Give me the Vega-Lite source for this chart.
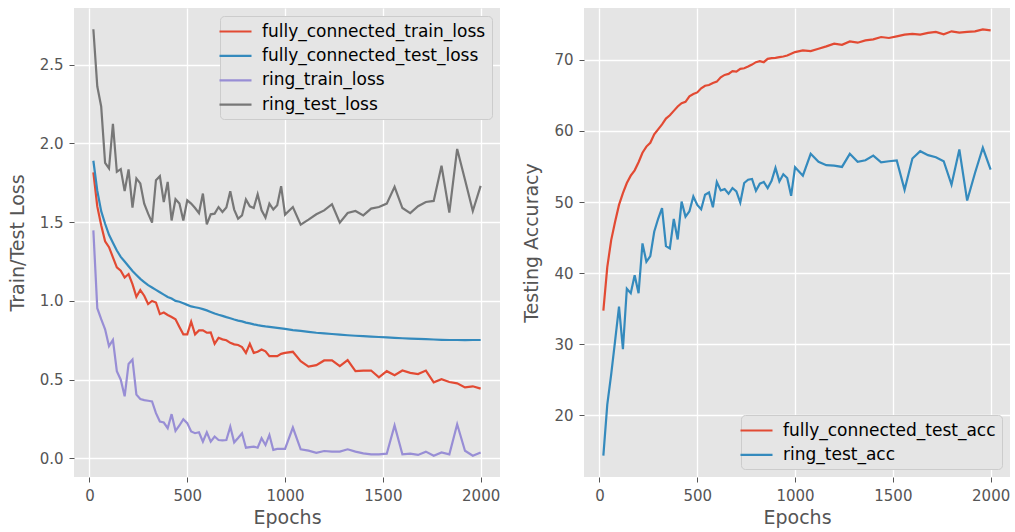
{
  "$schema": "https://vega.github.io/schema/vega-lite/v6.json",
  "background": "white",
  "padding": {"left": 8, "top": 8, "right": 2, "bottom": 2},
  "config": {
    "font": "DejaVu Sans",
    "view": {"fill": "#E5E5E5", "stroke": null},
    "axis": {"domain": false, "grid": true, "gridColor": "white", "gridWidth": 1.3, "tickColor": "#555555", "tickSize": 5, "tickWidth": 1, "labelColor": "#555555", "labelFontSize": 15, "titleColor": "#555555", "titleFontSize": 19, "titleFontWeight": "normal", "labelPadding": 6},
    "axisX": {"titlePadding": 5},
    "axisY": {"titlePadding": 12},
    "legend": {"fillColor": "#E5E5E5", "strokeColor": "#CCCCCC", "cornerRadius": 4, "padding": 6, "labelFontSize": 17, "labelColor": "#000000", "labelFont": "DejaVu Sans", "labelLimit": 0, "symbolType": "M-2,0L2,0", "symbolSize": 256, "symbolStrokeWidth": 2.2, "labelOffset": 17, "rowPadding": 6.4, "offset": 8},
    "concat": {"spacing": 22}
  },
  "datasets": {
    "loss": [
      {"epoch":20,"fully_connected_train_loss":1.816,"fully_connected_test_loss":1.89,"ring_train_loss":1.448,"ring_test_loss":2.725},
      {"epoch":40,"fully_connected_train_loss":1.60,"fully_connected_test_loss":1.70,"ring_train_loss":0.954,"ring_test_loss":2.363},
      {"epoch":60,"fully_connected_train_loss":1.48,"fully_connected_test_loss":1.57,"ring_train_loss":0.884,"ring_test_loss":2.235},
      {"epoch":80,"fully_connected_train_loss":1.379,"fully_connected_test_loss":1.49,"ring_train_loss":0.82,"ring_test_loss":1.877},
      {"epoch":100,"fully_connected_train_loss":1.341,"fully_connected_test_loss":1.42,"ring_train_loss":0.713,"ring_test_loss":1.841},
      {"epoch":120,"fully_connected_train_loss":1.277,"fully_connected_test_loss":1.37,"ring_train_loss":0.752,"ring_test_loss":2.125},
      {"epoch":140,"fully_connected_train_loss":1.213,"fully_connected_test_loss":1.32,"ring_train_loss":0.554,"ring_test_loss":1.82},
      {"epoch":160,"fully_connected_train_loss":1.192,"fully_connected_test_loss":1.28,"ring_train_loss":0.50,"ring_test_loss":1.837},
      {"epoch":180,"fully_connected_train_loss":1.149,"fully_connected_test_loss":1.25,"ring_train_loss":0.394,"ring_test_loss":1.697},
      {"epoch":200,"fully_connected_train_loss":1.171,"fully_connected_test_loss":1.22,"ring_train_loss":0.60,"ring_test_loss":1.835},
      {"epoch":220,"fully_connected_train_loss":1.107,"fully_connected_test_loss":1.19,"ring_train_loss":0.628,"ring_test_loss":1.593},
      {"epoch":240,"fully_connected_train_loss":1.026,"fully_connected_test_loss":1.165,"ring_train_loss":0.405,"ring_test_loss":1.778},
      {"epoch":260,"fully_connected_train_loss":1.069,"fully_connected_test_loss":1.14,"ring_train_loss":0.377,"ring_test_loss":1.746},
      {"epoch":280,"fully_connected_train_loss":1.033,"fully_connected_test_loss":1.12,"ring_train_loss":0.37,"ring_test_loss":1.618},
      {"epoch":300,"fully_connected_train_loss":0.98,"fully_connected_test_loss":1.10,"ring_train_loss":0.366,"ring_test_loss":1.554},
      {"epoch":320,"fully_connected_train_loss":1.0,"fully_connected_test_loss":1.085,"ring_train_loss":0.362,"ring_test_loss":1.497},
      {"epoch":340,"fully_connected_train_loss":0.99,"fully_connected_test_loss":1.07,"ring_train_loss":0.287,"ring_test_loss":1.767},
      {"epoch":360,"fully_connected_train_loss":0.916,"fully_connected_test_loss":1.055,"ring_train_loss":0.234,"ring_test_loss":1.792},
      {"epoch":380,"fully_connected_train_loss":0.926,"fully_connected_test_loss":1.04,"ring_train_loss":0.228,"ring_test_loss":1.628},
      {"epoch":400,"fully_connected_train_loss":0.911,"fully_connected_test_loss":1.025,"ring_train_loss":0.192,"ring_test_loss":1.756},
      {"epoch":420,"fully_connected_train_loss":0.898,"fully_connected_test_loss":1.015,"ring_train_loss":0.281,"ring_test_loss":1.511},
      {"epoch":440,"fully_connected_train_loss":0.884,"fully_connected_test_loss":1.0,"ring_train_loss":0.175,"ring_test_loss":1.646},
      {"epoch":460,"fully_connected_train_loss":0.835,"fully_connected_test_loss":0.995,"ring_train_loss":0.209,"ring_test_loss":1.618},
      {"epoch":480,"fully_connected_train_loss":0.788,"fully_connected_test_loss":0.985,"ring_train_loss":0.249,"ring_test_loss":1.511},
      {"epoch":500,"fully_connected_train_loss":0.788,"fully_connected_test_loss":0.975,"ring_train_loss":0.224,"ring_test_loss":1.639},
      {"epoch":520,"fully_connected_train_loss":0.868,"fully_connected_test_loss":0.965,"ring_train_loss":0.171,"ring_test_loss":1.618},
      {"epoch":540,"fully_connected_train_loss":0.788,"fully_connected_test_loss":0.96,"ring_train_loss":0.16,"ring_test_loss":1.59},
      {"epoch":560,"fully_connected_train_loss":0.813,"fully_connected_test_loss":0.955,"ring_train_loss":0.166,"ring_test_loss":1.558},
      {"epoch":580,"fully_connected_train_loss":0.813,"fully_connected_test_loss":0.948,"ring_train_loss":0.107,"ring_test_loss":1.682},
      {"epoch":600,"fully_connected_train_loss":0.798,"fully_connected_test_loss":0.94,"ring_train_loss":0.166,"ring_test_loss":1.486},
      {"epoch":620,"fully_connected_train_loss":0.80,"fully_connected_test_loss":0.93,"ring_train_loss":0.107,"ring_test_loss":1.55},
      {"epoch":640,"fully_connected_train_loss":0.728,"fully_connected_test_loss":0.92,"ring_train_loss":0.139,"ring_test_loss":1.554},
      {"epoch":660,"fully_connected_train_loss":0.766,"fully_connected_test_loss":0.912,"ring_train_loss":0.117,"ring_test_loss":1.596},
      {"epoch":680,"fully_connected_train_loss":0.756,"fully_connected_test_loss":0.905,"ring_train_loss":0.115,"ring_test_loss":1.565},
      {"epoch":700,"fully_connected_train_loss":0.75,"fully_connected_test_loss":0.897,"ring_train_loss":0.117,"ring_test_loss":1.593},
      {"epoch":720,"fully_connected_train_loss":0.734,"fully_connected_test_loss":0.89,"ring_train_loss":0.202,"ring_test_loss":1.697},
      {"epoch":740,"fully_connected_train_loss":0.724,"fully_connected_test_loss":0.882,"ring_train_loss":0.102,"ring_test_loss":1.58},
      {"epoch":760,"fully_connected_train_loss":0.72,"fully_connected_test_loss":0.875,"ring_train_loss":0.13,"ring_test_loss":1.522},
      {"epoch":780,"fully_connected_train_loss":0.707,"fully_connected_test_loss":0.87,"ring_train_loss":0.16,"ring_test_loss":1.543},
      {"epoch":800,"fully_connected_train_loss":0.67,"fully_connected_test_loss":0.862,"ring_train_loss":0.068,"ring_test_loss":1.644},
      {"epoch":820,"fully_connected_train_loss":0.728,"fully_connected_test_loss":0.857,"ring_train_loss":0.072,"ring_test_loss":1.601},
      {"epoch":840,"fully_connected_train_loss":0.67,"fully_connected_test_loss":0.851,"ring_train_loss":0.075,"ring_test_loss":1.59},
      {"epoch":860,"fully_connected_train_loss":0.677,"fully_connected_test_loss":0.846,"ring_train_loss":0.068,"ring_test_loss":1.677},
      {"epoch":880,"fully_connected_train_loss":0.692,"fully_connected_test_loss":0.842,"ring_train_loss":0.128,"ring_test_loss":1.575},
      {"epoch":900,"fully_connected_train_loss":0.68,"fully_connected_test_loss":0.838,"ring_train_loss":0.085,"ring_test_loss":1.529},
      {"epoch":920,"fully_connected_train_loss":0.649,"fully_connected_test_loss":0.835,"ring_train_loss":0.149,"ring_test_loss":1.618},
      {"epoch":940,"fully_connected_train_loss":0.649,"fully_connected_test_loss":0.832,"ring_train_loss":0.054,"ring_test_loss":1.58},
      {"epoch":960,"fully_connected_train_loss":0.649,"fully_connected_test_loss":0.829,"ring_train_loss":0.06,"ring_test_loss":1.607},
      {"epoch":980,"fully_connected_train_loss":0.664,"fully_connected_test_loss":0.826,"ring_train_loss":0.06,"ring_test_loss":1.729},
      {"epoch":1000,"fully_connected_train_loss":0.67,"fully_connected_test_loss":0.823,"ring_train_loss":0.06,"ring_test_loss":1.548},
      {"epoch":1040,"fully_connected_train_loss":0.677,"fully_connected_test_loss":0.815,"ring_train_loss":0.196,"ring_test_loss":1.596},
      {"epoch":1080,"fully_connected_train_loss":0.617,"fully_connected_test_loss":0.81,"ring_train_loss":0.058,"ring_test_loss":1.484},
      {"epoch":1120,"fully_connected_train_loss":0.583,"fully_connected_test_loss":0.804,"ring_train_loss":0.049,"ring_test_loss":1.516},
      {"epoch":1160,"fully_connected_train_loss":0.592,"fully_connected_test_loss":0.798,"ring_train_loss":0.036,"ring_test_loss":1.55},
      {"epoch":1200,"fully_connected_train_loss":0.622,"fully_connected_test_loss":0.794,"ring_train_loss":0.047,"ring_test_loss":1.575},
      {"epoch":1240,"fully_connected_train_loss":0.622,"fully_connected_test_loss":0.79,"ring_train_loss":0.043,"ring_test_loss":1.614},
      {"epoch":1280,"fully_connected_train_loss":0.586,"fully_connected_test_loss":0.786,"ring_train_loss":0.043,"ring_test_loss":1.497},
      {"epoch":1320,"fully_connected_train_loss":0.624,"fully_connected_test_loss":0.782,"ring_train_loss":0.058,"ring_test_loss":1.558},
      {"epoch":1360,"fully_connected_train_loss":0.554,"fully_connected_test_loss":0.779,"ring_train_loss":0.043,"ring_test_loss":1.571},
      {"epoch":1400,"fully_connected_train_loss":0.558,"fully_connected_test_loss":0.776,"ring_train_loss":0.032,"ring_test_loss":1.543},
      {"epoch":1440,"fully_connected_train_loss":0.558,"fully_connected_test_loss":0.773,"ring_train_loss":0.026,"ring_test_loss":1.586},
      {"epoch":1480,"fully_connected_train_loss":0.515,"fully_connected_test_loss":0.771,"ring_train_loss":0.026,"ring_test_loss":1.596},
      {"epoch":1520,"fully_connected_train_loss":0.554,"fully_connected_test_loss":0.768,"ring_train_loss":0.03,"ring_test_loss":1.618},
      {"epoch":1560,"fully_connected_train_loss":0.528,"fully_connected_test_loss":0.766,"ring_train_loss":0.209,"ring_test_loss":1.724},
      {"epoch":1600,"fully_connected_train_loss":0.558,"fully_connected_test_loss":0.763,"ring_train_loss":0.026,"ring_test_loss":1.59},
      {"epoch":1640,"fully_connected_train_loss":0.543,"fully_connected_test_loss":0.761,"ring_train_loss":0.03,"ring_test_loss":1.558},
      {"epoch":1680,"fully_connected_train_loss":0.536,"fully_connected_test_loss":0.759,"ring_train_loss":0.022,"ring_test_loss":1.601},
      {"epoch":1720,"fully_connected_train_loss":0.558,"fully_connected_test_loss":0.757,"ring_train_loss":0.043,"ring_test_loss":1.628},
      {"epoch":1760,"fully_connected_train_loss":0.483,"fully_connected_test_loss":0.755,"ring_train_loss":0.017,"ring_test_loss":1.635},
      {"epoch":1800,"fully_connected_train_loss":0.503,"fully_connected_test_loss":0.753,"ring_train_loss":0.038,"ring_test_loss":1.858},
      {"epoch":1840,"fully_connected_train_loss":0.485,"fully_connected_test_loss":0.752,"ring_train_loss":0.026,"ring_test_loss":1.561},
      {"epoch":1880,"fully_connected_train_loss":0.477,"fully_connected_test_loss":0.752,"ring_train_loss":0.217,"ring_test_loss":1.965},
      {"epoch":1920,"fully_connected_train_loss":0.451,"fully_connected_test_loss":0.751,"ring_train_loss":0.049,"ring_test_loss":1.77},
      {"epoch":1960,"fully_connected_train_loss":0.458,"fully_connected_test_loss":0.752,"ring_train_loss":0.017,"ring_test_loss":1.571},
      {"epoch":2000,"fully_connected_train_loss":0.443,"fully_connected_test_loss":0.752,"ring_train_loss":0.038,"ring_test_loss":1.731}
    ],
    "acc": [
      {"epoch":20,"fully_connected_test_acc":34.73,"ring_test_acc":14.33},
      {"epoch":40,"fully_connected_test_acc":40.86,"ring_test_acc":21.51},
      {"epoch":60,"fully_connected_test_acc":44.65,"ring_test_acc":25.76},
      {"epoch":80,"fully_connected_test_acc":47.24,"ring_test_acc":30.48},
      {"epoch":100,"fully_connected_test_acc":49.6,"ring_test_acc":35.3},
      {"epoch":120,"fully_connected_test_acc":51.26,"ring_test_acc":29.3},
      {"epoch":140,"fully_connected_test_acc":52.68,"ring_test_acc":37.8},
      {"epoch":160,"fully_connected_test_acc":53.71,"ring_test_acc":37.18},
      {"epoch":180,"fully_connected_test_acc":54.46,"ring_test_acc":39.69},
      {"epoch":200,"fully_connected_test_acc":55.6,"ring_test_acc":37.18},
      {"epoch":220,"fully_connected_test_acc":56.93,"ring_test_acc":44.18},
      {"epoch":240,"fully_connected_test_acc":57.8,"ring_test_acc":41.6},
      {"epoch":260,"fully_connected_test_acc":58.34,"ring_test_acc":42.4},
      {"epoch":280,"fully_connected_test_acc":59.52,"ring_test_acc":45.82},
      {"epoch":300,"fully_connected_test_acc":60.23,"ring_test_acc":47.65},
      {"epoch":320,"fully_connected_test_acc":60.93,"ring_test_acc":49.13},
      {"epoch":340,"fully_connected_test_acc":61.74,"ring_test_acc":43.8},
      {"epoch":360,"fully_connected_test_acc":62.21,"ring_test_acc":43.47},
      {"epoch":380,"fully_connected_test_acc":62.82,"ring_test_acc":47.62},
      {"epoch":400,"fully_connected_test_acc":63.44,"ring_test_acc":44.74},
      {"epoch":420,"fully_connected_test_acc":63.91,"ring_test_acc":50.07},
      {"epoch":440,"fully_connected_test_acc":64.1,"ring_test_acc":47.95},
      {"epoch":460,"fully_connected_test_acc":64.86,"ring_test_acc":48.7},
      {"epoch":480,"fully_connected_test_acc":65.18,"ring_test_acc":50.78},
      {"epoch":500,"fully_connected_test_acc":65.42,"ring_test_acc":49.6},
      {"epoch":520,"fully_connected_test_acc":65.99,"ring_test_acc":48.99},
      {"epoch":540,"fully_connected_test_acc":66.36,"ring_test_acc":51.02},
      {"epoch":560,"fully_connected_test_acc":66.46,"ring_test_acc":51.35},
      {"epoch":580,"fully_connected_test_acc":66.74,"ring_test_acc":49.27},
      {"epoch":600,"fully_connected_test_acc":66.93,"ring_test_acc":52.82},
      {"epoch":620,"fully_connected_test_acc":67.55,"ring_test_acc":51.63},
      {"epoch":640,"fully_connected_test_acc":67.88,"ring_test_acc":51.82},
      {"epoch":660,"fully_connected_test_acc":68.02,"ring_test_acc":51.16},
      {"epoch":680,"fully_connected_test_acc":68.4,"ring_test_acc":51.97},
      {"epoch":700,"fully_connected_test_acc":68.34,"ring_test_acc":51.49},
      {"epoch":720,"fully_connected_test_acc":68.73,"ring_test_acc":49.93},
      {"epoch":740,"fully_connected_test_acc":68.82,"ring_test_acc":52.68},
      {"epoch":760,"fully_connected_test_acc":69.05,"ring_test_acc":53.14},
      {"epoch":780,"fully_connected_test_acc":69.33,"ring_test_acc":53.24},
      {"epoch":800,"fully_connected_test_acc":69.67,"ring_test_acc":51.58},
      {"epoch":820,"fully_connected_test_acc":69.81,"ring_test_acc":52.58},
      {"epoch":840,"fully_connected_test_acc":69.67,"ring_test_acc":52.82},
      {"epoch":860,"fully_connected_test_acc":70.14,"ring_test_acc":51.97},
      {"epoch":880,"fully_connected_test_acc":70.24,"ring_test_acc":53.0},
      {"epoch":900,"fully_connected_test_acc":70.28,"ring_test_acc":54.8},
      {"epoch":920,"fully_connected_test_acc":70.38,"ring_test_acc":52.9},
      {"epoch":940,"fully_connected_test_acc":70.47,"ring_test_acc":53.9},
      {"epoch":960,"fully_connected_test_acc":70.61,"ring_test_acc":53.38},
      {"epoch":980,"fully_connected_test_acc":70.85,"ring_test_acc":50.88},
      {"epoch":1000,"fully_connected_test_acc":71.09,"ring_test_acc":54.9},
      {"epoch":1040,"fully_connected_test_acc":71.32,"ring_test_acc":53.71},
      {"epoch":1080,"fully_connected_test_acc":71.23,"ring_test_acc":56.78},
      {"epoch":1120,"fully_connected_test_acc":71.56,"ring_test_acc":55.65},
      {"epoch":1160,"fully_connected_test_acc":71.89,"ring_test_acc":55.18},
      {"epoch":1200,"fully_connected_test_acc":72.27,"ring_test_acc":55.13},
      {"epoch":1240,"fully_connected_test_acc":72.12,"ring_test_acc":54.94},
      {"epoch":1280,"fully_connected_test_acc":72.59,"ring_test_acc":56.78},
      {"epoch":1320,"fully_connected_test_acc":72.41,"ring_test_acc":55.65},
      {"epoch":1360,"fully_connected_test_acc":72.73,"ring_test_acc":55.88},
      {"epoch":1400,"fully_connected_test_acc":72.88,"ring_test_acc":56.54},
      {"epoch":1440,"fully_connected_test_acc":73.21,"ring_test_acc":55.6},
      {"epoch":1480,"fully_connected_test_acc":73.07,"ring_test_acc":55.74},
      {"epoch":1520,"fully_connected_test_acc":73.3,"ring_test_acc":55.84},
      {"epoch":1560,"fully_connected_test_acc":73.54,"ring_test_acc":51.73},
      {"epoch":1600,"fully_connected_test_acc":73.64,"ring_test_acc":56.12},
      {"epoch":1640,"fully_connected_test_acc":73.54,"ring_test_acc":57.15},
      {"epoch":1680,"fully_connected_test_acc":73.78,"ring_test_acc":56.59},
      {"epoch":1720,"fully_connected_test_acc":73.92,"ring_test_acc":56.3},
      {"epoch":1760,"fully_connected_test_acc":73.58,"ring_test_acc":55.74},
      {"epoch":1800,"fully_connected_test_acc":74.01,"ring_test_acc":52.44},
      {"epoch":1840,"fully_connected_test_acc":73.82,"ring_test_acc":57.39},
      {"epoch":1880,"fully_connected_test_acc":73.92,"ring_test_acc":50.21},
      {"epoch":1920,"fully_connected_test_acc":74.01,"ring_test_acc":54.09},
      {"epoch":1960,"fully_connected_test_acc":74.29,"ring_test_acc":57.63},
      {"epoch":2000,"fully_connected_test_acc":74.15,"ring_test_acc":54.56}
    ]
  },
  "hconcat": [
    {
      "width": 426,
      "height": 469,
      "data": {"name": "loss"},
      "transform": [{"fold": ["fully_connected_train_loss", "fully_connected_test_loss", "ring_train_loss", "ring_test_loss"], "as": ["series", "value"]}],
      "mark": {"type": "line", "strokeWidth": 2.2, "clip": true},
      "encoding": {
        "x": {"field": "epoch", "type": "quantitative", "scale": {"domain": [-79, 2099], "nice": false, "zero": false}, "axis": {"title": "Epochs", "values": [0, 500, 1000, 1500, 2000], "format": "d"}},
        "y": {"field": "value", "type": "quantitative", "scale": {"domain": [-0.118, 2.86], "nice": false, "zero": false}, "axis": {"title": "Train/Test Loss", "values": [0, 0.5, 1, 1.5, 2, 2.5], "format": ".1f"}},
        "color": {"field": "series", "type": "nominal", "sort": null, "scale": {"domain": ["fully_connected_train_loss", "fully_connected_test_loss", "ring_train_loss", "ring_test_loss"], "range": ["#E24A33", "#348ABD", "#988ED5", "#777777"]}, "legend": {"title": null, "orient": "top-right"}}
      }
    },
    {
      "width": 426,
      "height": 469,
      "data": {"name": "acc"},
      "transform": [{"fold": ["fully_connected_test_acc", "ring_test_acc"], "as": ["series", "value"]}],
      "mark": {"type": "line", "strokeWidth": 2.2, "clip": true},
      "encoding": {
        "x": {"field": "epoch", "type": "quantitative", "scale": {"domain": [-79, 2099], "nice": false, "zero": false}, "axis": {"title": "Epochs", "values": [0, 500, 1000, 1500, 2000], "format": "d"}},
        "y": {"field": "value", "type": "quantitative", "scale": {"domain": [11.33, 77.29], "nice": false, "zero": false}, "axis": {"title": "Testing Accuracy", "values": [20, 30, 40, 50, 60, 70], "format": "d"}},
        "color": {"field": "series", "type": "nominal", "sort": null, "scale": {"domain": ["fully_connected_test_acc", "ring_test_acc"], "range": ["#E24A33", "#348ABD"]}, "legend": {"title": null, "orient": "bottom-right"}}
      }
    }
  ],
  "resolve": {"scale": {"color": "independent"}}
}
